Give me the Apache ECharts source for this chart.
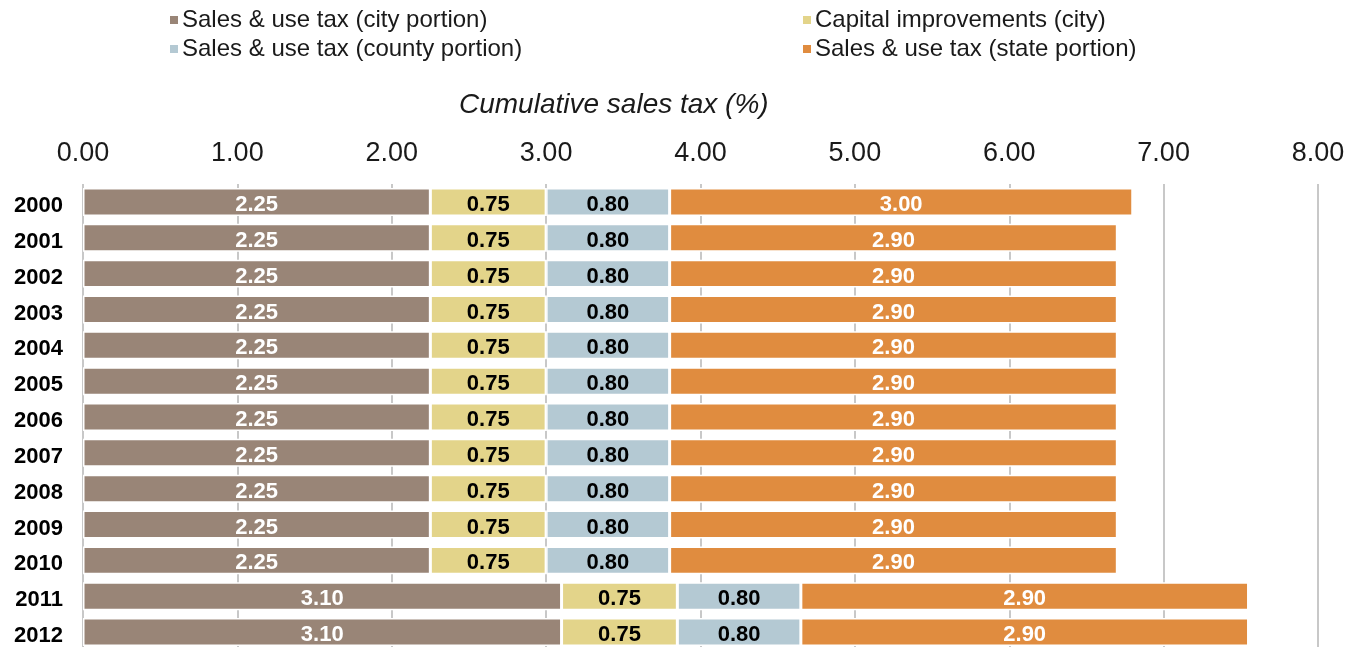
<!DOCTYPE html>
<html>
<head>
<meta charset="utf-8">
<script src="https://cdn.jsdelivr.net/npm/echarts@6/dist/echarts.min.js"></script>
<style>
  html, body { margin: 0; padding: 0; background: #fff; }
  #chart { width: 1346px; height: 647px; }
</style>
</head>
<body>
<div id="chart"></div>
<script>
// Sales tax components by year (percent)
const years = ['2000','2001','2002','2003','2004','2005','2006','2007','2008','2009','2010','2011','2012'];
const cityPortion   = [2.25,2.25,2.25,2.25,2.25,2.25,2.25,2.25,2.25,2.25,2.25,3.10,3.10];
const capitalImpr   = [0.75,0.75,0.75,0.75,0.75,0.75,0.75,0.75,0.75,0.75,0.75,0.75,0.75];
const countyPortion = [0.80,0.80,0.80,0.80,0.80,0.80,0.80,0.80,0.80,0.80,0.80,0.80,0.80];
const statePortion  = [3.00,2.90,2.90,2.90,2.90,2.90,2.90,2.90,2.90,2.90,2.90,2.90,2.90];

const seriesNames = [
  'Sales & use tax (city portion)',
  'Capital improvements (city)',
  'Sales & use tax (county portion)',
  'Sales & use tax (state portion)'
];
const colors = ['#998577', '#e3d48a', '#b4c9d3', '#e08c3f'];
const labelColors = ['#ffffff', '#000000', '#000000', '#ffffff'];
const seriesData = [cityPortion, capitalImpr, countyPortion, statePortion];

const font = '"Liberation Sans", Arial, Helvetica, sans-serif';

const legendBase = {
  orient: 'vertical',
  top: 3,
  itemWidth: 10, itemHeight: 10, itemGap: 5,
  icon: 'rect',
  textStyle: { fontFamily: font, fontSize: 24, color: '#1a1a1a', padding: [0, 0, 0, -2] }
};

const chart = echarts.init(document.getElementById('chart'));
chart.setOption({
  animation: false,
  backgroundColor: '#ffffff',
  color: colors,
  legend: [
    Object.assign({}, legendBase, { data: [seriesNames[0], seriesNames[2]], left: 163 }),
    Object.assign({}, legendBase, { data: [seriesNames[1], seriesNames[3]], left: 796 })
  ],
  graphic: [{
    type: 'text',
    left: 459, top: 91,
    style: {
      text: 'Cumulative sales tax (%)',
      font: 'italic 28px ' + font,
      fill: '#1a1a1a'
    }
  }],
  // the last row runs past the bottom edge of the canvas
  grid: { left: 83, right: 28, top: 184, height: 466, outerBoundsMode: 'none' },
  xAxis: {
    type: 'value',
    position: 'top',
    min: 0, max: 8, interval: 1,
    axisLine: { show: false },
    axisTick: { show: false },
    axisLabel: {
      formatter: v => v.toFixed(2),
      fontFamily: font, fontSize: 27, color: '#1a1a1a', margin: 17
    },
    splitLine: { lineStyle: { color: '#c8c8c8', width: 2 } }
  },
  yAxis: {
    type: 'category',
    data: years,
    inverse: true,
    axisLine: { show: false },
    axisTick: { show: false },
    axisLabel: {
      margin: 20,
      formatter: '{yr|{value}}',
      rich: {
        yr: {
          fontFamily: font, fontSize: 22, fontWeight: 'bold', color: '#000',
          padding: [8, 0, 0, 0]
        }
      }
    }
  },
  series: seriesData.map((d, i) => ({
    name: seriesNames[i],
    type: 'bar',
    stack: 'total',
    data: d,
    barCategoryGap: '22%',
    itemStyle: { color: colors[i], borderColor: '#ffffff', borderWidth: 1.5 },
    label: {
      show: true,
      position: 'inside',
      offset: [0, 3],
      formatter: p => p.value.toFixed(2),
      fontFamily: font, fontSize: 22, fontWeight: 'bold',
      color: labelColors[i]
    }
  }))
});
</script>
</body>
</html>
